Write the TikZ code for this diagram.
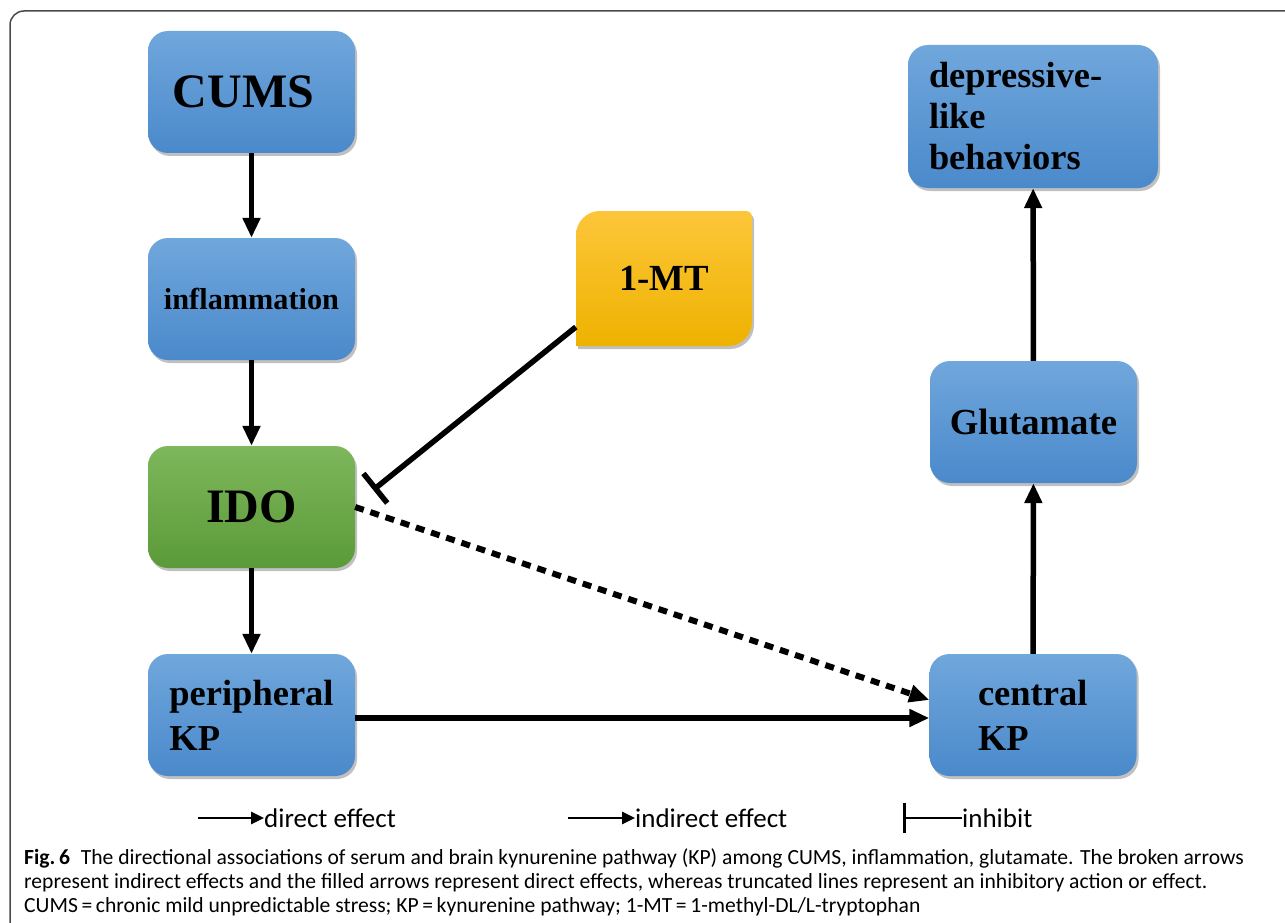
\documentclass[tikz,border=0pt]{standalone}
\usepackage{fontspec}
\setmainfont{Liberation Serif}
\newfontfamily\legfont{Carlito}
\newfontfamily\capfont{Carlito}
\usetikzlibrary{shadows,arrows.meta,calc}
\definecolor{bluetop}{HTML}{70A7DC}
\definecolor{bluebot}{HTML}{4A89CB}
\definecolor{greentop}{HTML}{7EB75C}
\definecolor{greenbot}{HTML}{5B9A38}
\definecolor{yellowtop}{HTML}{FDC63A}
\definecolor{yellowbot}{HTML}{EEB200}
\definecolor{framegray}{HTML}{4A4A4A}
\tikzset{
  boxbase/.style={rounded corners=20pt, minimum width=207pt, minimum height=122pt,
    drop shadow={shadow xshift=2pt, shadow yshift=-3pt, opacity=0.35, fill=black!70},
    font=\bfseries, inner sep=0pt},
  bluebox/.style={boxbase, top color=bluetop, bottom color=bluebot},
  greenbox/.style={boxbase, top color=greentop, bottom color=greenbot},
  yellowfill/.style={top color=yellowtop, bottom color=yellowbot,
    drop shadow={shadow xshift=2pt, shadow yshift=-3pt, opacity=0.35, fill=black!70}},
  flow/.style={line width=5.5pt, -{Triangle[length=20pt,width=17pt]}},
  dotflow/.style={line width=6pt, dash pattern=on 9pt off 7pt, -{Triangle[length=20pt,width=17pt]}},
  inhib/.style={line width=5.5pt, -{Bar[width=38pt]}},
  legarrow/.style={line width=2.8pt, -{Triangle[length=13pt,width=12pt]}},
  leg/.style={font=\legfont\fontsize{27}{30}\selectfont, inner sep=0pt},
  captext/.style={font=\capfont\fontsize{21.6}{24}\selectfont, inner sep=0pt, anchor=base west},
}
\begin{document}
\begin{tikzpicture}[x=1pt,y=-1pt]
\path[use as bounding box, clip] (0,0) rectangle (1285,923);
\fill[white] (0,0) rectangle (1285,923);
% frame
\draw[framegray, line width=1.5pt, rounded corners=14pt] (10,960) -- (10,11) -- (1320,11);

% 1-MT shape
\path[yellowfill] (576,346) -- (576,235) .. controls (576,221.75) and (586.75,211) .. (600,211)
  -- (746,211) .. controls (749.3,211) and (752,213.7) .. (752,217)
  -- (752,322) .. controls (752,335.25) and (741.25,346) .. (728,346) -- cycle;
\node[minimum width=176pt, minimum height=135pt, inner sep=0pt,
  font=\bfseries\fontsize{36.8}{44}\selectfont] (mt) at (664,278.5) {1-MT};

% boxes
\node[bluebox, font=\bfseries\fontsize{48}{56}\selectfont] (cums) at (251.5,92) {\makebox[0pt]{\hspace*{-16pt}CUMS}};
\node[bluebox, font=\bfseries\fontsize{30.3}{36}\selectfont] (infl) at (251.5,299) {inflammation};
\node[greenbox, font=\bfseries\fontsize{48}{56}\selectfont] (ido) at (251.5,507) {IDO};
\node[bluebox, font=\bfseries\fontsize{36.5}{45}\selectfont, align=left] (peri) at (251.5,715) {peripheral\\KP};
\node[bluebox, font=\bfseries\fontsize{36.5}{45}\selectfont, align=left, text width=110pt] (cent) at (1033,715) {central\\KP};
\node[bluebox, font=\bfseries\fontsize{36.7}{44}\selectfont] (glu) at (1033.5,422) {Glutamate};
\node[bluebox, minimum width=250pt, minimum height=143pt, text width=208pt, align=left,
  font=\bfseries\fontsize{36.4}{41}\selectfont] (dep) at (1033,116.5) {depressive-\\like\\behaviors};

% connectors
\draw[flow] (cums) -- (infl);
\draw[flow] (infl) -- (ido);
\draw[flow] (ido) -- (peri);
\draw[flow] ([yshift=-3pt]peri.east) -- ([yshift=-3pt]cent.west);
\draw[dotflow] (ido.east) -- ([yshift=15pt]cent.west);
\draw[inhib] ([yshift=-48.5pt]mt.west) -- ([xshift=18pt,yshift=17pt]ido.east);
\draw[flow] (cent) -- (glu);
\draw[flow] (glu) -- (dep);

% legend
\coordinate (l1s) at (198,818);
\node[leg, anchor=west] (l1) at (264,818) {direct effect};
\draw[legarrow] (l1s) -- (l1.west);
\coordinate (l2s) at (568,818);
\node[leg, anchor=west] (l2) at (635,818) {indirect effect};
\draw[legarrow] (l2s) -- (l2.west);
\coordinate (l3s) at (903,818);
\node[leg, anchor=west] (l3) at (962,818) {inhibit};
\draw[line width=2.6pt, {Bar[width=30pt]}-] (l3s) -- (l3.west);

% caption
\node[captext] (c1) at (24,864) {\textbf{Fig.\,6}\hspace{0.5em}The directional associations of serum and brain kynurenine pathway (KP) among CUMS, inflammation, glutamate. The broken arrows};
\node[captext] (c2) at (24,888) {represent indirect effects and the filled arrows represent direct effects, whereas truncated lines represent an inhibitory action or effect.};
\node[captext] (c3) at (24,912) {CUMS\,=\,chronic mild unpredictable stress; KP\,=\,kynurenine pathway; 1-MT\,=\,1-methyl-DL/L-tryptophan};
\end{tikzpicture}
\end{document}
